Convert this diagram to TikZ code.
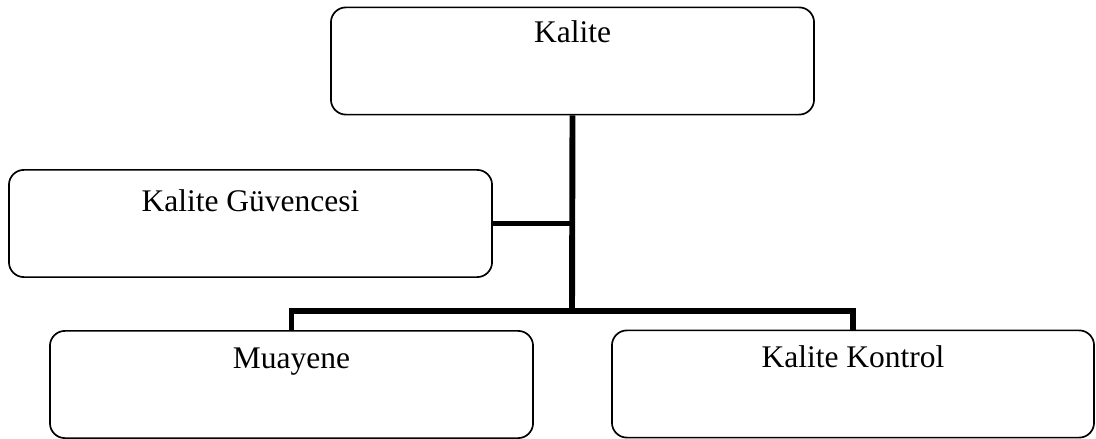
\documentclass[tikz,border=0pt]{standalone}
\usepackage{fontspec}
\setmainfont{Liberation Serif}
\usetikzlibrary{positioning}

\begin{document}
\begin{tikzpicture}[x=0.025cm, y=-0.025cm,
	box/.style={draw, rounded corners=0.375cm, line width=1.2pt, inner sep=0pt,
		minimum width=12.075cm, minimum height=2.68cm},
	title/.style={anchor=base, yshift=-0.95cm, font=\fontsize{22.4}{27}\selectfont},
	link/.style={line width=4.2pt}]
	\useasboundingbox (0,0) rectangle (1096,439);
	\node[box, label={[title, yshift=0.05cm]north:Kalite}] (kalite) at (572.5,61) {};
	\node[box, label={[title, yshift=-0.1cm]north:Kalite Güvencesi}] (guvence) at (250.5,223.5) {};
	\node[box, label={[title]north:Muayene}] (muayene) at (291.5,384.5) {};
	\node[box, minimum width=12.05cm, label={[title]north:Kalite Kontrol}] (kontrol) at (853,384) {};
	\coordinate (hub) at (572,311);
	% trunk and branches
	\draw[link] (kalite.south) -- (hub);
	\draw[link] (guvence.east) -- (guvence.east -| hub);
	\draw[link] (muayene.north) |- (hub) -| (kontrol.north);
\end{tikzpicture}
\end{document}
